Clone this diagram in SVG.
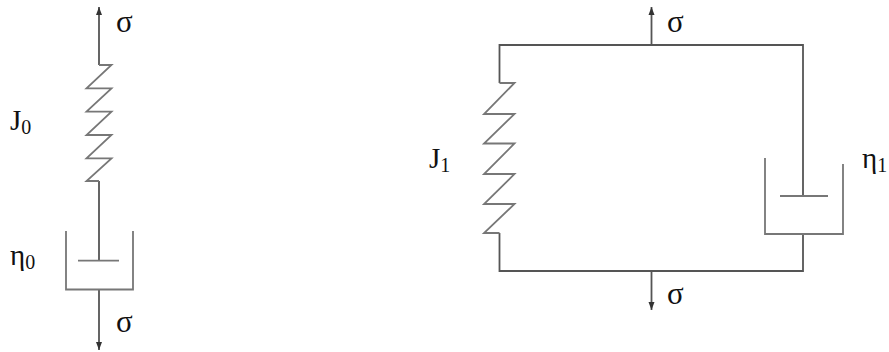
<svg xmlns="http://www.w3.org/2000/svg" width="889" height="352" viewBox="0 0 889 352">
<defs>
<marker id="up" markerUnits="userSpaceOnUse" markerWidth="10" markerHeight="8" refX="8" refY="4" orient="auto" overflow="visible"><path d="M0 1L8 4L0 7Z" fill="#333"/></marker>
</defs>
<style>
.l{fill:none;stroke:#555;stroke-width:1.8}
.s{fill:none;stroke:#777;stroke-width:1.8}
text{font-family:"Liberation Serif","Times New Roman",serif;font-size:29px;fill:#111}
.sub{font-size:20px}
.sig{font-size:31px}
</style>
<rect width="889" height="352" fill="#fff"/>
<g id="connectors">
<path class="l" d="M99 65V7" marker-end="url(#up)"/>
<path class="l" d="M99 181V261"/>
<path class="l" d="M99 289V350" marker-end="url(#up)"/>
<path class="l" d="M651.500 45V7" marker-end="url(#up)"/>
<path class="l" d="M651.500 271V310" marker-end="url(#up)"/>
<path class="l" d="M499.500 83V45H803V196"/>
<path class="l" d="M499.500 233V271H803V234"/>
</g>
<g id="spring-j0"><path class="s" d="M99 65H111.500L86.500 88.300H111.500L86.500 111.700H111.500L86.500 135H111.500L86.500 158.300H111.500L86.500 181H99"/></g>
<g id="dashpot-eta0"><path class="s" d="M66 231V289.500H133V231"/><path class="s" d="M78 260.700H119"/></g>
<g id="spring-j1"><path class="s" d="M499.500 83H514.500L484 114H514.500L484 143.500H514.500L484 174H514.500L484 204H514.500L484 233H499.500"/></g>
<g id="dashpot-eta1"><path class="s" d="M765 158V234H843V164"/><path class="s" d="M780 196H828"/></g>
<g id="labels">
<text class="sig" x="116" y="32">σ</text>
<text x="10" y="130">J<tspan class="sub" dy="4">0</tspan></text>
<text x="10" y="265">η<tspan class="sub" dy="4">0</tspan></text>
<text class="sig" x="116" y="332">σ</text>
<text class="sig" x="667" y="32">σ</text>
<text class="sig" x="667" y="304">σ</text>
<text x="429" y="168">J<tspan class="sub" dy="4">1</tspan></text>
<text x="862" y="168">η<tspan class="sub" dy="4">1</tspan></text>
</g>
</svg>
